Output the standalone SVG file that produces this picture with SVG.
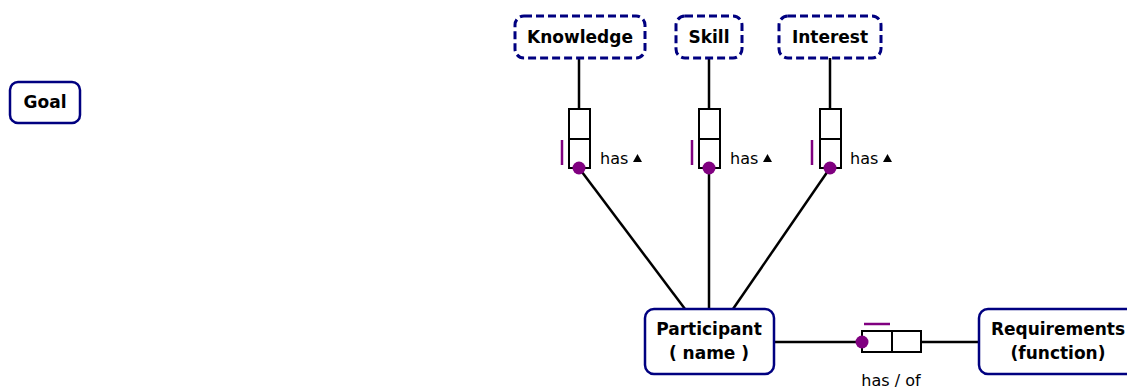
<svg xmlns="http://www.w3.org/2000/svg" width="1127" height="389" viewBox="0 0 1127 389">
  <style>
    .ent { fill: #fff; stroke: #000080; stroke-width: 2.5; }
    .val { fill: #fff; stroke: #000080; stroke-width: 3; stroke-dasharray: 8 4; }
    .lbl { font-family: "DejaVu Sans", Verdana, sans-serif; font-size: 17px; font-weight: bold; fill: #000; text-anchor: middle; }
    .role { fill: #fff; stroke: #000; stroke-width: 2; }
    .conn { stroke: #000; stroke-width: 2.5; fill: none; }
    .uniq { stroke: #800080; stroke-width: 2.5; }
    .mand { fill: #800080; }
    .rtxt { font-family: "DejaVu Sans", Verdana, sans-serif; font-size: 16px; fill: #000; }
  </style>

  <g id="connectors">
    <line class="conn" x1="579" y1="58" x2="579" y2="109"/>
    <line class="conn" x1="709" y1="58" x2="709" y2="109"/>
    <line class="conn" x1="830" y1="58" x2="830" y2="109"/>
    <line class="conn" x1="579" y1="168" x2="685" y2="309"/>
    <line class="conn" x1="709" y1="168" x2="709" y2="309"/>
    <line class="conn" x1="830" y1="168" x2="733" y2="309"/>
    <line class="conn" x1="774" y1="342" x2="862" y2="342"/>
    <line class="conn" x1="921" y1="342" x2="979" y2="342"/>
  </g>

  <g id="goal">
    <rect class="ent" x="10" y="82" width="70" height="41" rx="8"/>
    <text class="lbl" x="45" y="108">Goal</text>
  </g>

  <g id="knowledge">
    <rect class="val" x="515" y="16" width="130" height="42" rx="9"/>
    <text class="lbl" x="580" y="43">Knowledge</text>
  </g>

  <g id="skill">
    <rect class="val" x="676" y="16" width="66" height="42" rx="9"/>
    <text class="lbl" x="709" y="43">Skill</text>
  </g>

  <g id="interest">
    <rect class="val" x="779" y="16" width="102" height="42" rx="9"/>
    <text class="lbl" x="830" y="43">Interest</text>
  </g>

  <g id="participant">
    <rect class="ent" x="645" y="309" width="129" height="65" rx="9"/>
    <text class="lbl" x="709" y="335">Participant</text>
    <text class="lbl" x="709" y="359">( name )</text>
  </g>

  <g id="requirements">
    <rect class="ent" x="979" y="309" width="160" height="65" rx="9"/>
    <text class="lbl" x="1058" y="335">Requirements</text>
    <text class="lbl" x="1058" y="359">(function)</text>
  </g>

  <g id="has-knowledge">
    <rect class="role" x="569" y="109" width="21" height="30"/>
    <rect class="role" x="569" y="139" width="21" height="29"/>
    <line class="uniq" x1="562" y1="140" x2="562" y2="165"/>
    <circle class="mand" cx="579" cy="168" r="6.5"/>
    <text class="rtxt" x="600" y="164">has</text>
    <polygon points="633,162 642,162 637.5,154" fill="#000"/>
  </g>

  <g id="has-skill">
    <rect class="role" x="699" y="109" width="21" height="30"/>
    <rect class="role" x="699" y="139" width="21" height="29"/>
    <line class="uniq" x1="692" y1="140" x2="692" y2="165"/>
    <circle class="mand" cx="709" cy="168" r="6.5"/>
    <text class="rtxt" x="730" y="164">has</text>
    <polygon points="763,162 772,162 767.5,154" fill="#000"/>
  </g>

  <g id="has-interest">
    <rect class="role" x="820" y="109" width="21" height="30"/>
    <rect class="role" x="820" y="139" width="21" height="29"/>
    <line class="uniq" x1="812" y1="140" x2="812" y2="165"/>
    <circle class="mand" cx="830" cy="168" r="6.5"/>
    <text class="rtxt" x="850" y="164">has</text>
    <polygon points="883,162 892,162 887.5,154" fill="#000"/>
  </g>

  <g id="has-of">
    <rect class="role" x="862" y="331" width="30" height="21"/>
    <rect class="role" x="892" y="331" width="29" height="21"/>
    <line class="uniq" x1="864" y1="324" x2="890" y2="324"/>
    <circle class="mand" cx="862" cy="342" r="6.5"/>
    <text class="rtxt" x="891" y="386" text-anchor="middle">has / of</text>
  </g>
</svg>
